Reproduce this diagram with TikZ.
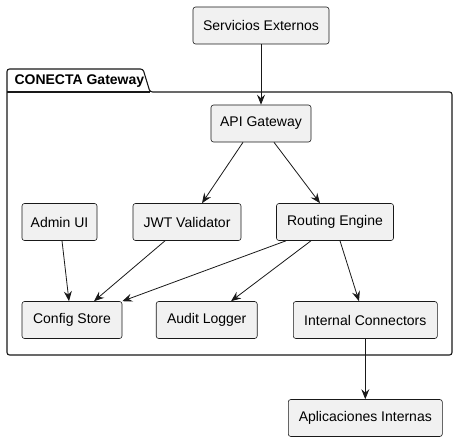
\documentclass[tikz,border=0pt]{standalone}
\usepackage{fontspec}
\setmainfont{Liberation Sans}
\usetikzlibrary{arrows.meta}
\begin{document}
\begin{tikzpicture}[x=1pt,y=-1pt,
  comp/.style={draw=black!90, fill=black!5.5, line width=0.6pt, rounded corners=2.5pt,
    inner sep=0pt, font=\fontsize{14pt}{16pt}\selectfont, minimum height=37pt},
  link/.style={draw=black!90, line width=0.8pt,
    -{Stealth[length=10pt,width=8pt,inset=3.5pt]}}
]
\useasboundingbox (0,0) rectangle (459,441);

% package frame with its tab
\draw[line width=1.1pt, black!90, fill=white, rounded corners=2.5pt]
  (7,92) -- (7,69) -- (143,69) -- (150,92) -- (452,92) -- (452,355) -- (7,355) -- cycle;
\draw[line width=1.1pt, black!90] (7,92) -- (150,92);
\node[anchor=west, font=\bfseries\fontsize{14pt}{16pt}\selectfont] (pkgtitle) at (11,81) {CONECTA Gateway};

% components
\node[comp, minimum width=136pt] (ext) at (261,25.5) {Servicios Externos};
\node[comp, minimum width=100pt] (api) at (261,123.5) {API Gateway};
\node[comp, minimum width=75pt] (admin) at (59.5,222) {Admin UI};
\node[comp, minimum width=108pt] (jwt) at (187,222) {JWT Validator};
\node[comp, minimum width=117pt] (route) at (335,222) {Routing Engine};
\node[comp, minimum width=100pt] (cfg) at (72,320) {Config Store};
\node[comp, minimum width=101pt] (audit) at (206.7,320) {Audit Logger};
\node[comp, minimum width=144pt] (conn) at (365.3,320) {Internal Connectors};
\node[comp, minimum width=154pt] (apps) at (365.3,418) {Aplicaciones Internas};

% connectors
\draw[link] (ext) -- (api);
\draw[link] (api.south) ++(-18,0) coordinate (a1) (a1) -- (jwt.north -| 202,0);
\draw[link] (api.south) ++(13,0) coordinate (a2) (a2) -- (route.north -| 320,0);
\draw[link] (admin.south) ++(2.5,0) coordinate (b1) (b1) -- (cfg.north -| 69,0);
\draw[link] (jwt.south) ++(-22,0) coordinate (b2) (b2) -- (cfg.north -| 94,0);
\draw[link] (route.south) ++(-49,0) coordinate (b3) (b3) -- (cfg.north east);
\draw[link] (route.south) ++(-24,0) coordinate (b4) (b4) -- (audit.north -| 231,0);
\draw[link] (route.south) ++(5,0) coordinate (b5) (b5) -- (conn.north -| 359,0);
\draw[link] (conn) -- (apps);
\end{tikzpicture}
\end{document}
